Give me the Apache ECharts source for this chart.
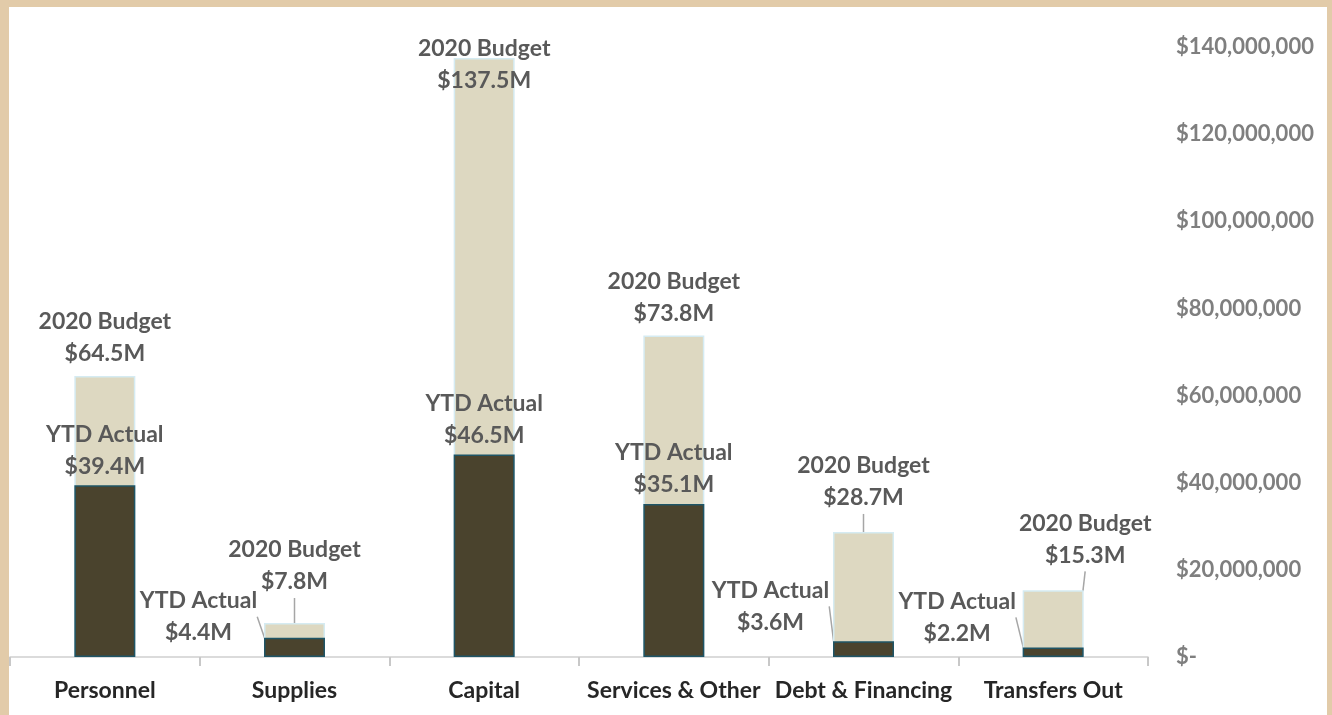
<!DOCTYPE html>
<html>
<head>
<meta charset="utf-8">
<script src="https://cdn.jsdelivr.net/npm/echarts@6/dist/echarts.min.js"></script>
<style>
  html, body {
    margin: 0;
    padding: 0;
    width: 1332px;
    height: 715px;
    background-color: #e2cba9;
    overflow: hidden;
  }
  #chart {
    position: absolute;
    left: 9px;
    top: 7px;
    width: 1318px;
    height: 708px;
    background-color: #fff;
  }
</style>
</head>
<body>
<div id="chart"></div>
<script>
// values in millions of dollars
const categories = ['Personnel', 'Supplies', 'Capital', 'Services & Other', 'Debt & Financing', 'Transfers Out']
const budget = [64.5, 7.8, 137.5, 73.8, 28.7, 15.3]
const actual = [39.4, 4.4, 46.5, 35.1, 3.6, 2.2]
const yTicks = { min: 0, max: 140, interval: 20 }

// label nudges (dx, dy) and which ones get a leader line
const budgetNudge = [[0, 0], [0, -19], [0, 45], [0, 0], [0, -12], [32, -13]]
const budgetLine = [false, true, false, false, true, true]
const actualNudge = [[0, 0], [-96, 14], [0, 0], [0, 0], [-93, 0], [-96, 5]]
const actualLine = [false, true, false, false, true, true]

const labelFont = {
  fontFamily: 'Lato',
  fontWeight: 'bold',
  fontSize: 23,
  lineHeight: 32,
  color: '#595959'
}

function itemsOf (values, lines) {
  return values.map((v, i) => ({
    value: v,
    labelLine: {
      show: lines[i],
      lineStyle: { color: '#a6a6a6', width: 1.5 }
    }
  }))
}

const chart = echarts.init(document.getElementById('chart'))
chart.setOption({
  animation: false,
  grid: {
    left: 1,
    right: 179,
    top: 40,
    bottom: 58
  },
  xAxis: {
    type: 'category',
    data: categories,
    boundaryGap: true,
    axisLine: { lineStyle: { color: '#d0d0d0', width: 1.5 } },
    axisTick: {
      show: true,
      interval: 0,
      alignWithLabel: false,
      length: 9,
      lineStyle: { color: '#c8c8c8', width: 2 }
    },
    axisLabel: {
      interval: 0,
      margin: 22,
      fontFamily: 'Lato',
      fontWeight: 'bold',
      fontSize: 23,
      color: '#262626'
    }
  },
  yAxis: {
    type: 'value',
    position: 'right',
    min: yTicks.min,
    max: yTicks.max,
    interval: yTicks.interval,
    splitLine: { show: false },
    axisLine: { show: false },
    axisTick: { show: false },
    axisLabel: {
      margin: 28,
      align: 'left',
      fontFamily: 'Lato',
      fontWeight: 'bold',
      fontSize: 22,
      color: '#7f7f7f',
      formatter: v => v === 0 ? '$-' : '$' + (v * 1e6).toLocaleString('en-US')
    }
  },
  series: [
    {
      name: '2020 Budget',
      type: 'bar',
      barWidth: 61,
      barGap: '-100%',
      data: itemsOf(budget, budgetLine),
      itemStyle: {
        color: '#ddd8c1',
        borderColor: '#d5ebf2',
        borderWidth: 1.5
      },
      label: Object.assign({
        show: true,
        position: 'top',
        distance: 6,
        formatter: p => '2020 Budget\n$' + p.value.toFixed(1) + 'M'
      }, labelFont),
      labelLayout: p => ({ dx: budgetNudge[p.dataIndex][0], dy: budgetNudge[p.dataIndex][1] })
    },
    {
      name: 'YTD Actual',
      type: 'bar',
      barWidth: 61,
      barGap: '-100%',
      data: itemsOf(actual, actualLine),
      itemStyle: {
        color: '#4a432d',
        borderColor: '#1f5566',
        borderWidth: 1.5
      },
      label: Object.assign({
        show: true,
        position: 'top',
        distance: 3,
        formatter: p => 'YTD Actual\n$' + p.value.toFixed(1) + 'M'
      }, labelFont),
      labelLayout: p => ({ dx: actualNudge[p.dataIndex][0], dy: actualNudge[p.dataIndex][1] })
    }
  ]
})
</script>
</body>
</html>
